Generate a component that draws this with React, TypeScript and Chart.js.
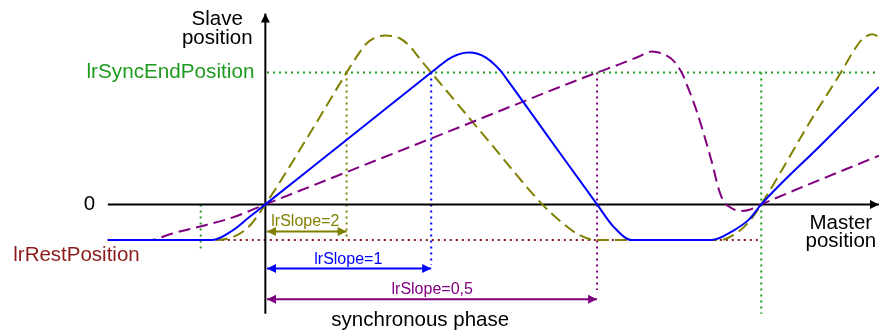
import { useEffect, useRef } from "react";
import { Chart, registerables } from "chart.js";

Chart.register(...registerables);

// Units: x = master position (1 = length of the lrSlope=1 synchronous phase),
//        y = slave position (1 = lrSyncEndPosition, 0 = origin)
type P = [number, number];

const slope1Curve: P[] = [
  [-0.95, -0.27], [-0.32, -0.27], [-0.2, -0.2], [-0.1, -0.1], [0, 0], [0.5, 0.5], [1, 1],
  [1.07, 1.07], [1.1, 1.098], [1.15, 1.131], [1.2, 1.149], [1.23, 1.152], [1.28, 1.142],
  [1.33, 1.113], [1.38, 1.063], [1.42, 1.01], [1.45, 0.96], [1.71, 0.505], [2, 0], [2.1, -0.17],
  [2.21, -0.27], [2.69, -0.27], [2.82, -0.2], [2.92, -0.11], [2.99, 0], [3.35, 0.451], [3.7, 0.89],
];

const slope2Curve: P[] = [
  [-0.95, -0.27], [-0.31, -0.27], [-0.2, -0.25], [-0.1, -0.17], [0, 0], [0.25, 0.5], [0.49, 1],
  [0.54, 1.1], [0.61, 1.22], [0.66, 1.262], [0.72, 1.28], [0.81, 1.26], [0.87, 1.2], [0.94, 1.09],
  [1, 1], [1.34, 0.49], [1.67, 0], [1.79, -0.14], [1.89, -0.23], [1.99, -0.27], [2.74, -0.27],
  [2.86, -0.2], [2.93, -0.11], [2.99, 0], [3.3, 0.66], [3.47, 1], [3.54, 1.15], [3.59, 1.24],
  [3.66, 1.29], [3.7, 1.27],
];

const slope05Curve: P[] = [
  [-0.95, -0.27], [-0.7, -0.27], [-0.56, -0.22], [-0.4, -0.17], [-0.2, -0.1], [0, 0], [1, 0.5],
  [2, 1], [2.13, 1.06], [2.25, 1.12], [2.33, 1.16], [2.4, 1.14], [2.46, 1.09], [2.51, 1],
  [2.55, 0.88], [2.6, 0.71], [2.69, 0.33], [2.735, 0.11], [2.76, 0.03], [2.8, -0.02],
  [2.86, -0.05], [2.92, -0.04], [2.99, 0], [3.7, 0.37],
];

const masterAxis: P[] = [[-0.95, 0], [3.7, 0]];
const slaveAxis: P[] = [[0, -0.83], [0, 1.447]];

const syncEndLine: P[] = [[0.01, 1], [3.7, 1]];
const restLine: P[] = [[-0.95, -0.27], [2.99, -0.27]];
const greenMarkLeft: P[] = [[-0.39, 0], [-0.39, -0.36]];
const greenMarkRight: P[] = [[2.99, 1], [2.99, -0.83]];
const slope2End: P[] = [[0.49, 1], [0.49, -0.27]];
const slope1End: P[] = [[1, 1], [1, -0.46]];
const slope05End: P[] = [[2, 1], [2, -0.65]];

const slope2Span: P[] = [[0.01, -0.205], [0.49, -0.205]];
const slope1Span: P[] = [[0.01, -0.487], [1, -0.487]];
const slope05Span: P[] = [[0.01, -0.72], [2, -0.72]];

const labelTexts = [
  "Slave", "position", "lrSyncEndPosition", "0", "lrRestPosition", "Master", "position",
  "lrSlope=2", "lrSlope=1", "lrSlope=0,5", "synchronous phase",
];

const OLIVE = "#808000";
const BLUE = "#0000ff";
const PURPLE = "#800080";
const GREEN = "#1e9b1e";
const DARKRED = "#8b1a1a";
const FONT = "'Liberation Sans', Arial, sans-serif";

const textLayout = [
  { x: -0.29, y: 1.405, color: "#000", size: 20.5, align: "center" },
  { x: -0.29, y: 1.26, color: "#000", size: 20.5, align: "center" },
  { x: -0.066, y: 1.0, color: GREEN, size: 20.7, align: "right" },
  { x: -1.06, y: 0.0, color: "#000", size: 20.5, align: "center" },
  { x: -1.52, y: -0.39, color: DARKRED, size: 20.5, align: "left" },
  { x: 3.47, y: -0.14, color: "#000", size: 20.5, align: "center" },
  { x: 3.47, y: -0.28, color: "#000", size: 20.5, align: "center" },
  { x: 0.241, y: -0.133, color: OLIVE, size: 16, align: "center" },
  { x: 0.5, y: -0.42, color: BLUE, size: 16, align: "center" },
  { x: 1.006, y: -0.648, color: PURPLE, size: 16, align: "center" },
  { x: 0.934, y: -0.877, color: "#000", size: 20.5, align: "center" },
];

const toXY = (pts: P[]) => pts.map(([x, y]) => ({ x, y }));

const arrowHeads: { pts: P[]; color: string; start: boolean; end: boolean }[] = [
  { pts: masterAxis, color: "#000", start: false, end: true },
  { pts: slaveAxis, color: "#000", start: false, end: true },
  { pts: slope2Span, color: OLIVE, start: true, end: true },
  { pts: slope1Span, color: BLUE, start: true, end: true },
  { pts: slope05Span, color: PURPLE, start: true, end: true },
];

const overlayPlugin = {
  id: "overlay",
  afterDatasetsDraw(chart: any) {
    const ctx = chart.ctx as CanvasRenderingContext2D;
    const xs = chart.scales.x;
    const ys = chart.scales.y;
    const px = (p: P) => [xs.getPixelForValue(p[0]), ys.getPixelForValue(p[1])];
    ctx.save();
    const head = (tip: number[], from: number[], color: string) => {
      const ang = Math.atan2(tip[1] - from[1], tip[0] - from[0]);
      const L = 9, W = 4.5;
      ctx.fillStyle = color;
      ctx.beginPath();
      ctx.moveTo(tip[0], tip[1]);
      ctx.lineTo(tip[0] - L * Math.cos(ang) + W * Math.sin(ang), tip[1] - L * Math.sin(ang) - W * Math.cos(ang));
      ctx.lineTo(tip[0] - L * Math.cos(ang) - W * Math.sin(ang), tip[1] - L * Math.sin(ang) + W * Math.cos(ang));
      ctx.closePath();
      ctx.fill();
    };
    for (const a of arrowHeads) {
      const s = px(a.pts[0]);
      const e = px(a.pts[a.pts.length - 1]);
      if (a.end) head(e, s, a.color);
      if (a.start) head(s, e, a.color);
    }
    ctx.textBaseline = "middle";
    labelTexts.forEach((t, i) => {
      const l = textLayout[i];
      const [x, y] = px([l.x, l.y]);
      ctx.font = `${l.size}px ${FONT}`;
      ctx.fillStyle = l.color;
      ctx.textAlign = l.align as CanvasTextAlign;
      ctx.fillText(t, x, y);
    });
    ctx.restore();
  },
};

export default function App() {
  const ref = useRef<HTMLCanvasElement | null>(null);
  useEffect(() => {
    if (!ref.current) return;
    const curve = (pts: P[], color: string, dash: number[], order: number) => ({
      data: toXY(pts),
      borderColor: color,
      borderWidth: 2,
      borderDash: dash,
      cubicInterpolationMode: "monotone" as const,
      order,
    });
    const straight = (pts: P[], color: string, dash: number[], order: number, width = 2) => ({
      data: toXY(pts),
      borderColor: color,
      borderWidth: width,
      borderDash: dash,
      tension: 0,
      order,
    });
    const dot = [2, 4];
    const chart = new Chart(ref.current, {
      type: "line",
      data: {
        datasets: [
          curve(slope1Curve, BLUE, [], 0),
          curve(slope05Curve, PURPLE, [12, 6], 1),
          curve(slope2Curve, OLIVE, [12, 6], 2),
          straight(slope2Span, OLIVE, [], 3),
          straight(slope1Span, BLUE, [], 3),
          straight(slope05Span, PURPLE, [], 3),
          straight(masterAxis, "#000", [], 4),
          straight(slaveAxis, "#000", [], 4),
          straight(syncEndLine, GREEN, dot, 5),
          straight(restLine, DARKRED, dot, 5),
          straight(greenMarkLeft, GREEN, dot, 5),
          straight(greenMarkRight, GREEN, dot, 5),
          straight(slope2End, OLIVE, dot, 5),
          straight(slope1End, BLUE, dot, 5),
          straight(slope05End, PURPLE, dot, 5),
        ] as any,
      },
      options: {
        animation: false,
        responsive: false,
        devicePixelRatio: 1,
        layout: { padding: 0 },
        elements: { point: { radius: 0, hoverRadius: 0 }, line: { borderCapStyle: "butt" } },
        plugins: { legend: { display: false }, tooltip: { enabled: false } },
        events: [],
        scales: {
          x: { type: "linear", min: -1.6, max: 3.7, display: false },
          y: { type: "linear", min: -0.96, max: 1.55, display: false },
        },
      },
      plugins: [overlayPlugin],
    });
    return () => chart.destroy();
  }, []);
  return (
    <div style={{ position: "absolute", left: 0, top: 0, width: 879, height: 331, background: "#fff" }}>
      <canvas ref={ref} width={879} height={331} style={{ display: "block" }} />
    </div>
  );
}
